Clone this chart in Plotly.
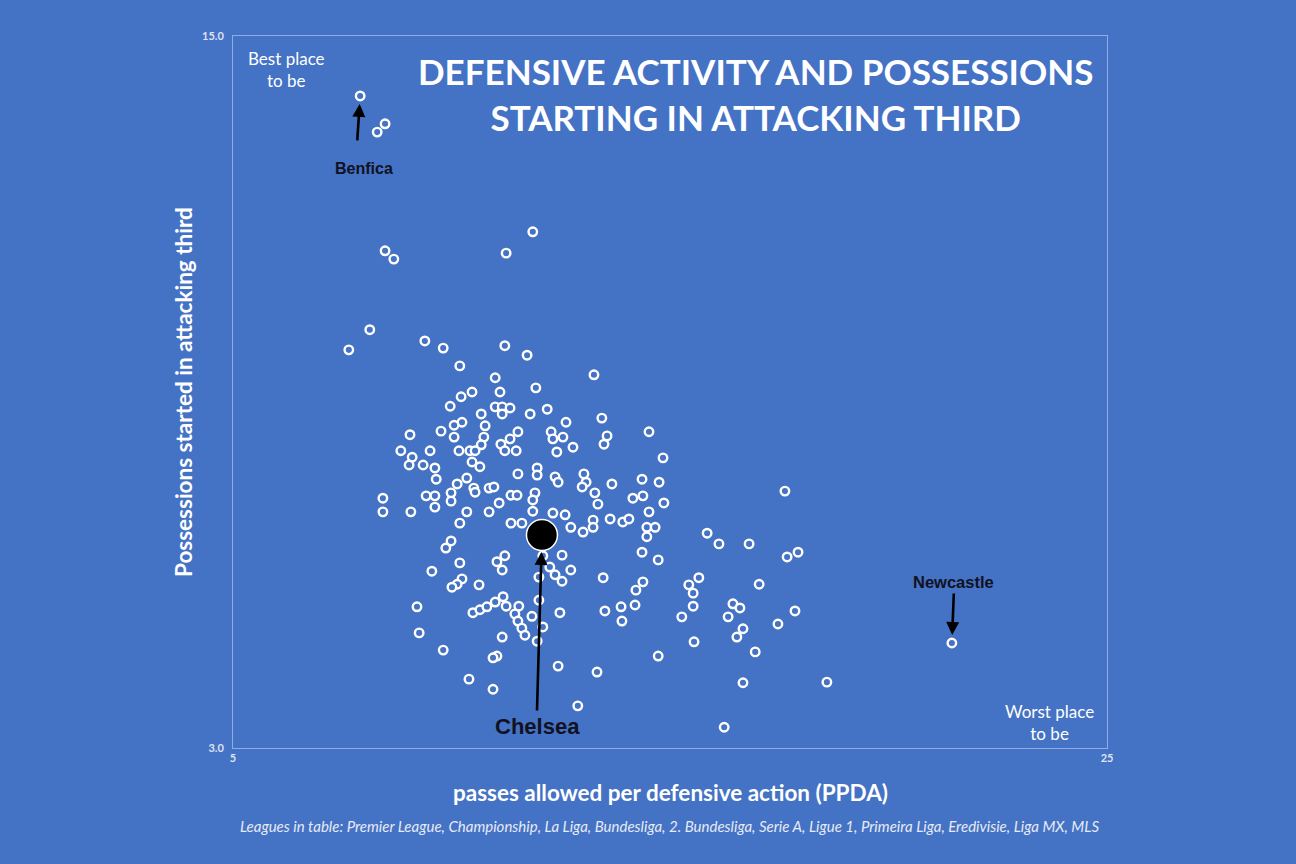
import plotly.graph_objects as go

# PPDA (x) and possessions started in attacking third (y) for each team
ppda = [7.91, 8.30, 8.48, 8.48, 8.68, 11.25, 11.86, 7.65, 8.13, 9.39, 9.81, 11.22, 11.73, 10.19,
        11.00, 13.26, 11.93, 11.11, 10.47, 10.22, 9.97, 11.00, 11.16, 11.34, 11.16, 10.68, 11.80,
        12.19, 10.24, 10.06, 10.77, 12.62, 13.44, 9.76, 9.05, 10.06, 10.74, 11.52, 11.34, 12.28,
        12.55, 12.32, 14.52, 13.56, 13.49, 11.13, 10.68, 12.78, 8.84, 9.51, 10.17, 10.42, 10.54,
        11.22, 11.48, 12.41, 9.10, 9.03, 9.35, 9.62, 10.47, 10.65, 14.84, 9.65, 10.35, 11.52,
        11.96, 11.96, 12.37, 12.44, 13.03, 13.08, 12.99, 13.67, 14.36, 14.75, 10.13, 10.51, 10.86,
        10.97, 8.43, 8.43, 9.07, 9.42, 9.62, 9.62, 9.99, 9.99, 10.54, 11.09, 10.35, 10.86, 11.36,
        11.50, 11.91, 11.86, 11.86, 10.19, 11.36, 11.61, 12.32, 12.60, 12.73, 9.99, 9.87, 12.53,
        12.09, 11.22, 11.04, 11.16, 10.19, 9.55, 12.25, 12.37, 12.53, 12.73, 12.00, 10.24, 10.13,
        10.01, 10.63, 9.21, 10.49, 10.65, 10.81, 11.00, 11.18, 11.25, 11.54, 11.45, 11.52, 11.61,
        11.68, 11.84, 12.00, 12.48, 12.09, 9.26, 11.16, 11.96, 9.81, 13.28, 13.35, 14.15, 14.38,
        14.86, 14.52, 13.01, 13.24, 13.24, 13.63, 13.92, 14.06, 14.47, 14.66, 14.47, 14.36, 14.73,
        17.63, 15.85, 16.12, 16.81, 17.68, 17.93, 13.47, 14.38, 14.22, 15.66, 15.43, 15.53, 17.04,
        13.51, 13.88, 14.20, 13.90, 15.53, 15.27, 16.44, 16.60, 16.33, 17.86, 17.47, 16.67, 16.53,
        15.55, 16.95, 11.04, 10.95, 10.40, 10.95, 12.44, 13.33, 12.89, 14.73, 16.67, 18.59, 16.24,
        21.45]
poss = [13.99, 13.38, 13.52, 11.38, 11.24, 11.34, 11.70, 9.71, 10.05, 9.86, 9.74, 9.78, 9.62, 9.44,
        9.24, 9.29, 9.07, 9.00, 9.00, 8.92, 8.76, 8.75, 8.75, 8.73, 8.63, 8.63, 8.63,
        8.71, 8.49, 8.44, 8.43, 8.49, 8.56, 8.34, 8.28, 8.24, 8.24, 8.33, 8.21, 8.33,
        8.24, 8.21, 8.33, 8.26, 8.12, 8.12, 8.11, 8.07, 8.01, 8.01, 8.01, 8.01, 8.01,
        8.01, 8.01, 7.99, 7.90, 7.77, 7.77, 7.72, 7.82, 7.74, 7.89, 7.53, 7.55, 7.62,
        7.72, 7.60, 7.57, 7.48, 7.62, 7.48, 7.40, 7.45, 7.53, 7.48, 7.45, 7.38, 7.38,
        7.40, 7.21, 6.98, 6.98, 7.25, 7.25, 7.06, 7.30, 7.16, 7.31, 7.13, 6.98, 6.98, 7.26,
        7.26, 7.30, 7.18, 6.99, 6.79, 6.79, 6.79, 6.96, 6.93, 6.72, 6.49, 6.37, 6.25,
        6.24, 6.24, 6.14, 6.00, 6.12, 5.98, 6.05, 5.92, 5.81, 6.00, 5.88, 5.85, 5.76,
        5.71, 5.75, 5.38, 5.28, 5.33, 5.38, 5.46, 5.55, 5.39, 5.39, 5.26, 5.14, 5.02,
        4.90, 5.22, 5.49, 5.28, 5.04, 4.94, 4.87, 4.80, 4.65, 7.30, 7.11, 7.21, 7.25,
        7.13, 6.98, 6.64, 6.84, 6.72, 6.86, 6.81, 6.86, 6.72, 6.72, 6.56, 6.30, 6.17,
        7.33, 6.62, 6.44, 6.44, 6.22, 6.30, 5.87, 5.80, 5.66, 5.87, 5.75, 5.61, 5.76,
        5.31, 5.38, 5.41, 5.14, 5.39, 5.21, 5.43, 5.36, 5.21, 5.31, 5.09, 5.01, 4.87,
        4.79, 4.62, 4.55, 4.52, 4.16, 3.99, 4.38, 4.28, 3.71, 4.55, 4.10, 4.11, 3.35,
        4.77]

chelsea_ppda = [12.07]
chelsea_poss = [6.59]
benfica = (7.91, 13.99)
newcastle = (21.45, 4.77)

x_ticks = [5, 25]
x_ticktext = ["<b>5</b>", "<b>25</b>"]
y_ticks = [3, 15]
y_ticktext = ["<b>3.0</b>", "<b>15.0</b>"]

BG = "#4472C4"
W, H = 1296, 864
ML, MR, MT, MB = 233, 189, 36, 116
PW, PH = W - ML - MR, H - MT - MB

fig = go.Figure()
fig.add_trace(go.Scatter(
    x=ppda, y=poss, mode="markers",
    marker=dict(symbol="circle", size=8.5, color=BG,
                line=dict(color="white", width=2.4)),
    hoverinfo="x+y", showlegend=False))
fig.add_trace(go.Scatter(
    x=chelsea_ppda, y=chelsea_poss, mode="markers",
    marker=dict(symbol="circle", size=31, color="black",
                line=dict(color="white", width=1.5)),
    showlegend=False))

label_font = dict(family="Liberation Sans, Arial", color="#111122")
ann = []
ann.append(dict(x=benfica[0], y=benfica[1], xref="x", yref="y", text="",
                showarrow=True, ax=-3, ay=46, arrowhead=2, arrowsize=1,
                arrowwidth=2.6, arrowcolor="black", standoff=8))
ann.append(dict(x=benfica[0], y=benfica[1], xref="x", yref="y", text="<b>Benfica</b>",
                showarrow=False, xshift=4, yshift=-73, font=dict(size=16, **label_font)))
ann.append(dict(x=newcastle[0], y=newcastle[1], xref="x", yref="y", text="",
                showarrow=True, ax=2, ay=-51, arrowhead=2, arrowsize=1,
                arrowwidth=2.6, arrowcolor="black", standoff=8))
ann.append(dict(x=newcastle[0], y=newcastle[1], xref="x", yref="y", text="<b>Newcastle</b>",
                showarrow=False, xshift=2, yshift=61, font=dict(size=16.5, **label_font)))
ann.append(dict(x=chelsea_ppda[0], y=chelsea_poss[0], xref="x", yref="y", text="",
                showarrow=True, ax=-5, ay=177, arrowhead=2, arrowsize=1,
                arrowwidth=2.6, arrowcolor="black", standoff=17))
ann.append(dict(x=chelsea_ppda[0], y=chelsea_poss[0], xref="x", yref="y", text="<b>Chelsea</b>",
                showarrow=False, xshift=-4, yshift=-192, font=dict(size=22, **label_font)))
fig.update_layout(annotations=ann)


def px(xp):
    return (xp - ML) / PW


def py(yp):
    return (H - MB - yp) / PH


extra = [
    dict(x=px(755), y=py(94), text="<b>DEFENSIVE ACTIVITY AND POSSESSIONS<br>STARTING IN ATTACKING THIRD</b>",
         font=dict(family="Lato, Open Sans", size=35, color="white")),
    dict(x=px(286), y=py(70), text="Best place<br>to be",
         font=dict(family="Lato, Open Sans", size=17, color="white")),
    dict(x=px(1049), y=py(722), text="Worst place<br>to be",
         font=dict(family="Lato, Open Sans", size=17, color="white")),
    dict(x=px(670), y=py(792), text="<b>passes allowed per defensive action (PPDA)</b>",
         font=dict(family="Lato, Open Sans", size=22.5, color="white")),
    dict(x=px(183), y=py(392), text="<b>Possessions started in attacking third</b>", textangle=-90,
         font=dict(family="Lato, Open Sans", size=22.5, color="white")),
    dict(x=px(669), y=py(826),
         text="<i>Leagues in table: Premier League, Championship, La Liga, Bundesliga, 2. Bundesliga, Serie A, Ligue 1, Primeira Liga, Eredivisie, Liga MX, MLS</i>",
         font=dict(family="Lato, Open Sans", size=15, color="#e6ebf7")),
]
for a in extra:
    a.update(xref="paper", yref="paper", showarrow=False, xanchor="center", yanchor="middle",
             align="center")
    fig.add_annotation(**a)

fig.update_layout(
    width=W, height=H,
    paper_bgcolor=BG, plot_bgcolor=BG,
    margin=dict(l=ML, r=MR, t=MT, b=MB),
    showlegend=False,
)
axis_common = dict(showgrid=False, zeroline=False, showline=True, mirror=True,
                   linecolor="rgba(210,220,245,0.55)", linewidth=1, ticks="",
                   tickfont=dict(family="Lato, Open Sans", size=11, color="#dfe3f5"))
fig.update_xaxes(range=[5, 25], tickvals=x_ticks, ticktext=x_ticktext, **axis_common)
fig.update_yaxes(range=[3, 15], tickvals=y_ticks, ticktext=y_ticktext, ticklabelstandoff=6,
                 **axis_common)

fig.write_html("out.html", config={"displayModeBar": False},
               post_script="document.body.style.margin='0';document.body.style.background='%s';" % BG)
